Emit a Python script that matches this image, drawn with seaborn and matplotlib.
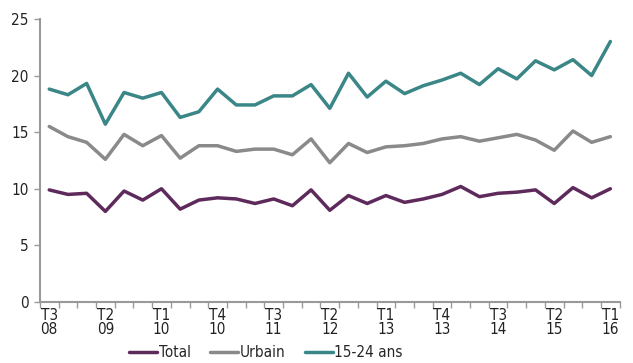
import numpy as np
import pandas as pd
import matplotlib
matplotlib.use("Agg")
import matplotlib.pyplot as plt
import seaborn as sns

quarters = ["T3 08", "T4 08", "T1 09", "T2 09", "T3 09", "T4 09", "T1 10", "T2 10",
            "T3 10", "T4 10", "T1 11", "T2 11", "T3 11", "T4 11", "T1 12", "T2 12",
            "T3 12", "T4 12", "T1 13", "T2 13", "T3 13", "T4 13", "T1 14", "T2 14",
            "T3 14", "T4 14", "T1 15", "T2 15", "T3 15", "T4 15", "T1 16"]

total = [9.9, 9.5, 9.6, 8.0, 9.8, 9.0, 10.0, 8.2, 9.0, 9.2, 9.1, 8.7, 9.1, 8.5, 9.9, 8.1,
         9.4, 8.7, 9.4, 8.8, 9.1, 9.5, 10.2, 9.3, 9.6, 9.7, 9.9, 8.7, 10.1, 9.2, 10.0]
urbain = [15.5, 14.6, 14.1, 12.6, 14.8, 13.8, 14.7, 12.7, 13.8, 13.8, 13.3, 13.5, 13.5, 13.0,
          14.4, 12.3, 14.0, 13.2, 13.7, 13.8, 14.0, 14.4, 14.6, 14.2, 14.5, 14.8, 14.3, 13.4,
          15.1, 14.1, 14.6]
jeunes = [18.8, 18.3, 19.3, 15.7, 18.5, 18.0, 18.5, 16.3, 16.8, 18.8, 17.4, 17.4, 18.2, 18.2,
          19.2, 17.1, 20.2, 18.1, 19.5, 18.4, 19.1, 19.6, 20.2, 19.2, 20.6, 19.7, 21.3, 20.5,
          21.4, 20.0, 23.0]

series_names = ["Total", "Urbain", "15-24 ans"]
colors = ["#5E2A5C", "#8A8A8A", "#3B8686"]

df = pd.DataFrame({
    "idx": list(range(len(quarters))) * 3,
    "val": total + urbain + jeunes,
    "serie": [s for s in series_names for _ in quarters],
})

sns.set_theme(style="white")
plt.rcParams["font.family"] = ["DejaVu Sans"]
plt.rcParams["font.stretch"] = "condensed"

fig = plt.figure(figsize=(6.33, 3.63), dpi=100)
ax = fig.add_axes([0.063, 0.168, 0.916, 0.78])

sns.lineplot(data=df, x="idx", y="val", hue="serie", hue_order=series_names,
             palette=colors, linewidth=2.5, ax=ax, legend=True)

ax.set_xlim(-0.5, len(quarters) - 0.5)
ax.set_ylim(0, 25)
ax.set_xlabel("")
ax.set_ylabel("")

ax.set_yticks(range(0, 26, 5))
ax.tick_params(axis="y", length=4, width=1, color="#999999", labelsize=11, pad=4,
               left=True, labelcolor="#222222")

# tick marks on the boundaries, labels on every third quarter
ax.set_xticks(np.arange(-0.5, len(quarters), 1.0))
ax.set_xticklabels([])
ax.tick_params(axis="x", which="major", length=4, width=1, color="#999999", bottom=True)
lab_pos = list(range(0, len(quarters), 3))
ax.set_xticks(lab_pos, minor=True)
ax.set_xticklabels([quarters[i].replace(" ", "\n") for i in lab_pos], minor=True,
                   linespacing=0.95)
ax.tick_params(axis="x", which="minor", length=0, labelsize=11, pad=4, labelcolor="#222222")

for side in ["top", "right"]:
    ax.spines[side].set_visible(False)
for side in ["left", "bottom"]:
    ax.spines[side].set_color("#999999")
    ax.spines[side].set_linewidth(1.5)

handles, labels = ax.get_legend_handles_labels()
ax.legend(handles, labels, loc="center", bbox_to_anchor=(0.39, -0.18), ncol=3,
          frameon=False, fontsize=11, handlelength=1.8, handletextpad=0.1,
          columnspacing=1.3, borderaxespad=0, borderpad=0)

fig.savefig("out.png", dpi=100)
